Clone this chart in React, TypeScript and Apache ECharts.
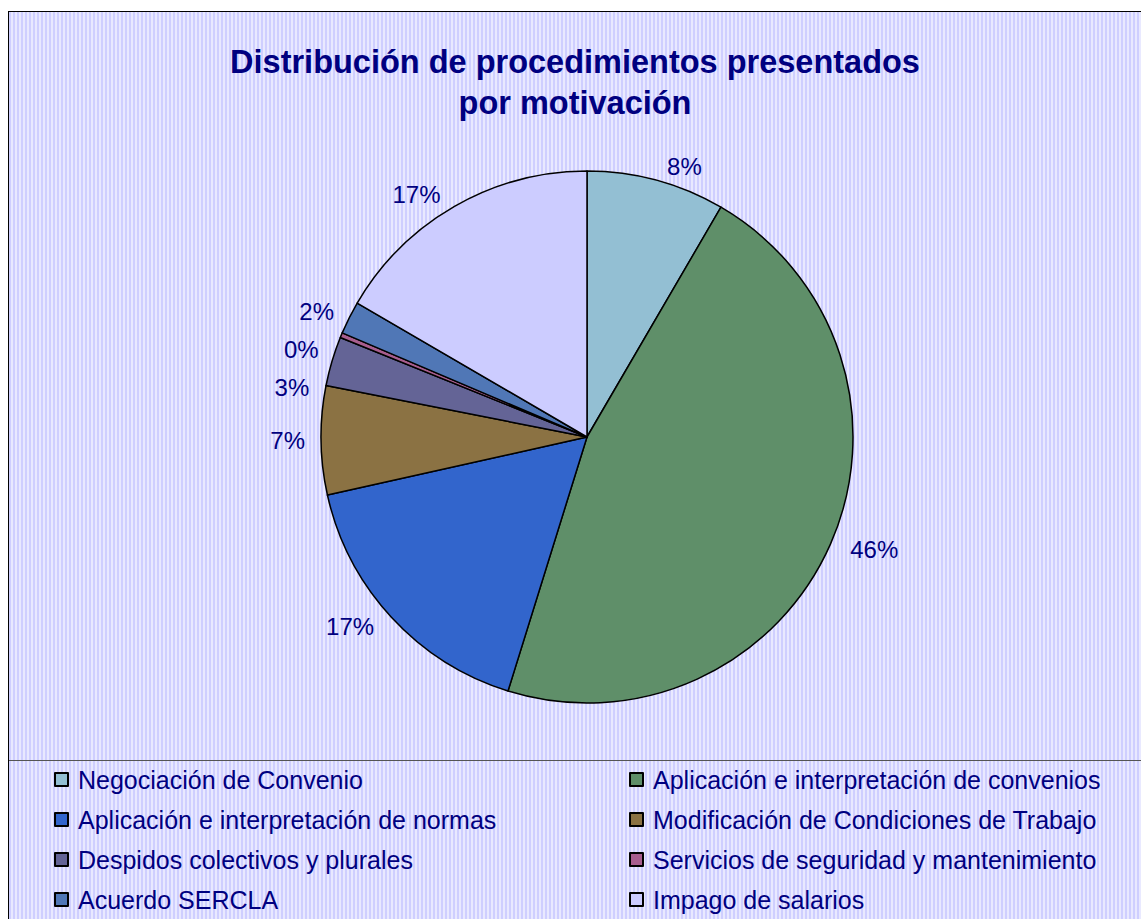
import React, { useEffect, useRef } from "react";
import * as echarts from "echarts";

const categories = [
  "Negociación de Convenio",
  "Aplicación e interpretación de convenios",
  "Aplicación e interpretación de normas",
  "Modificación de Condiciones de Trabajo",
  "Despidos colectivos y plurales",
  "Servicios de seguridad y mantenimiento",
  "Acuerdo SERCLA",
  "Impago de salarios",
];
const values = [8.4, 46.4, 16.7, 6.6, 3.0, 0.3, 2.0, 16.6];
const colors = ["#93BFD3", "#5F8F69", "#3265CC", "#8B7243", "#646496", "#A85E8E", "#5077B6", "#CCCCFF"];
const titleText = "Distribución de procedimientos presentados\npor motivación";

export default function App() {
  const ref = useRef<HTMLDivElement>(null);
  useEffect(() => {
    document.documentElement.style.overflow = "hidden";
    document.body.style.margin = "0";
    const chart = echarts.init(ref.current!, undefined, { renderer: "svg" });
    const font = "'Liberation Sans', Arial, sans-serif";
    const navy = "#000080";
    const leftCol = [0, 2, 4, 6].map((i) => categories[i]);
    const rightCol = [1, 3, 5, 7].map((i) => categories[i]);
    const legendCommon = {
      orient: "vertical" as const,
      top: 755,
      itemWidth: 13,
      itemHeight: 13,
      itemGap: 15,
      icon: "rect",
      padding: 0,
      textStyle: { color: navy, fontSize: 25, fontFamily: font, lineHeight: 25, padding: [0, 0, 0, 5] },
    };
    chart.setOption({
      animation: false,
      backgroundColor: "transparent",
      color: colors,
      title: {
        text: titleText,
        left: "center",
        top: 29,
        padding: 0,
        textStyle: { color: navy, fontSize: 32.5, fontWeight: "bold", fontFamily: font, lineHeight: 41 },
      },
      legend: [
        { ...legendCommon, left: 45, data: leftCol },
        { ...legendCommon, left: 620, data: rightCol },
      ],
      series: [
        {
          type: "pie",
          center: [578, 425],
          radius: 266,
          startAngle: 90,
          clockwise: true,
          avoidLabelOverlap: true,
          data: categories.map((name, i) => ({ name, value: values[i] })),
          itemStyle: { borderColor: "#000000", borderWidth: 1.5 },
          label: {
            show: true,
            position: "outside",
            formatter: (p: any) => Math.round(p.percent) + "%",
            color: navy,
            fontSize: 24,
            fontFamily: font,
            lineHeight: 36,
          },
          labelLine: { show: false, length: 14, length2: 2 },
          emphasis: { disabled: true },
        },
      ],
    });
    return () => chart.dispose();
  }, []);
  return (
    <div
      style={{
        position: "relative",
        top: 11,
        left: 8,
        width: 1160,
        height: 920,
        boxSizing: "border-box",
        border: "1px solid #000",
        background: "repeating-linear-gradient(90deg, #cfcfff 0px, #cfcfff 2px, #e9e9ff 2px, #e9e9ff 4px)",
      }}
    >
      <div
        style={{ position: "absolute", left: 0, right: 0, top: 748, height: 1, background: "#555555" }}
      />
      <div ref={ref} style={{ position: "relative", width: 1132, height: 918 }} />
    </div>
  );
}
